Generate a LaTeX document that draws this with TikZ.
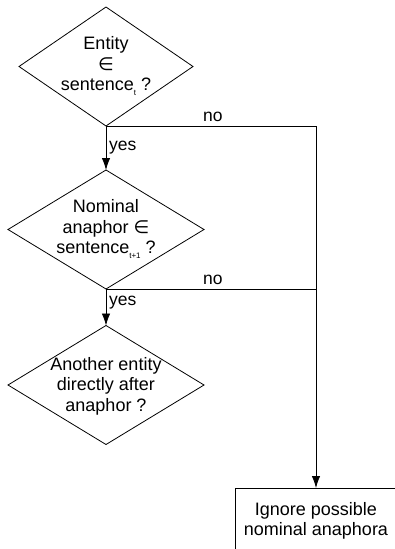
\documentclass[tikz,border=0pt]{standalone}
\usepackage{fontspec}
\setmainfont{Liberation Sans}
\newfontfamily\dejavu{DejaVu Sans}
\usetikzlibrary{shapes.geometric,arrows.meta}
\newcommand{\subs}[1]{\raisebox{-0.45ex}{\fontsize{8}{8}\selectfont #1}}
\tikzset{
  dec/.style={draw, shape=diamond, inner sep=0pt, outer sep=0pt, line width=0.8pt},
  dtext/.style={align=center, inner sep=0pt, font=\fontsize{18}{20.5}\selectfont},
  lbl/.style={inner sep=0pt, anchor=base west, font=\fontsize{17.5}{20}\selectfont},
  conn/.style={line width=0.8pt},
  arr/.style={conn, -{Latex[length=12pt,width=8.5pt]}},
  boxst/.style={draw, line width=0.8pt, inner sep=0pt, outer sep=0pt, minimum width=162pt, minimum height=90pt, anchor=north},
}
\begin{document}
\begin{tikzpicture}[x=1pt,y=-1pt]
\useasboundingbox (0,0) rectangle (395,549);
\node[dec, minimum width=174pt, minimum height=119pt] (d1) at (106,66.5) {};
\node[dtext] (d1t) at (106,66) {Entity\\{\dejavu ∈}\\sentence\subs{t} ?};
\node[dec, minimum width=196pt, minimum height=119pt] (d2) at (106,229.5) {};
\node[dtext] (d2t) at (106,229) {Nominal\\anaphor {\dejavu ∈}\\sentence\subs{t+1} ?};
\node[dec, minimum width=196pt, minimum height=119pt] (d3) at (106,385) {};
\node[dtext] (d3t) at (106,386) {Another entity\\directly after\\anaphor ?};
\node[boxst] (bx) at (316,488) {};
\node[dtext] (bxt) at (316,521) {Ignore possible\\nominal anaphora};
\draw[arr] (d1.south) -- (d2.north);
\draw[arr] (d1.south) -| (bx.north);
\draw[arr] (d2.south) -- (d3.north);
\draw[conn] (d2.south) -- (d2.south -| bx.north);
\node[lbl] (no1) at (203,121) {no};
\node[lbl] (no2) at (203,284) {no};
\node[lbl] (yes1) at (109,150) {yes};
\node[lbl] (yes2) at (109,305) {yes};
\end{tikzpicture}
\end{document}
